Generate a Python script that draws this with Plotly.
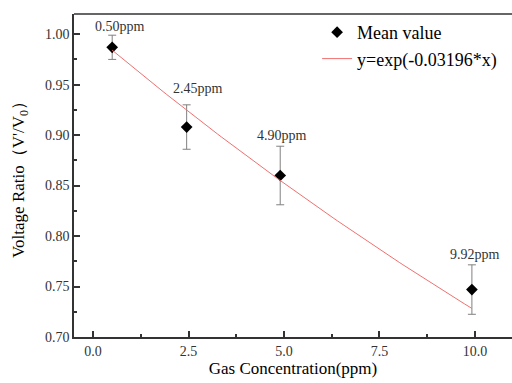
import numpy as np
import plotly.graph_objects as go

conc = [0.50, 2.45, 4.90, 9.92]
ratio = [0.987, 0.908, 0.860, 0.747]
err = [0.012, 0.022, 0.029, 0.0245]
labels = ["0.50ppm", "2.45ppm", "4.90ppm", "9.92ppm"]
label_x = [0.70, 2.74, 4.94, 9.99]
label_y = [1.008, 0.946, 0.900, 0.782]
fit_k = -0.03196

x_ticks = [0.0, 2.5, 5.0, 7.5, 10.0]
y_ticks = [0.70, 0.75, 0.80, 0.85, 0.90, 0.95, 1.00]

xf = np.linspace(conc[0], conc[-1], 100)
yf = np.exp(fit_k * xf)

font = "Liberation Serif, Times New Roman, serif"
fig = go.Figure()
fig.add_trace(go.Scatter(
    x=conc, y=ratio, mode="markers", name="Mean value",
    marker=dict(symbol="diamond", size=9, color="black"),
    error_y=dict(type="data", array=err, color="#808080", thickness=1, width=4),
))
fig.add_trace(go.Scatter(
    x=xf, y=yf, mode="lines", name="y=exp(-0.03196*x)",
    line=dict(color="#f07070", width=1),
))

for xi, yi, lab in zip(label_x, label_y, labels):
    fig.add_annotation(x=xi, y=yi, text=lab, showarrow=False,
                       font=dict(family=font, size=14, color="#333"))

fig.add_shape(type="line", xref="paper", yref="paper", x0=0, x1=1, y0=1, y1=1,
              line=dict(color="#333", width=1.5))

fig.update_layout(
    width=512, height=383,
    margin=dict(l=74, r=0, t=14, b=46),
    paper_bgcolor="white", plot_bgcolor="white",
    font=dict(family=font, size=14, color="#333"),
    showlegend=True,
    legend=dict(x=0.555, y=1.0, xanchor="left", yanchor="top",
                bgcolor="rgba(0,0,0,0)", font=dict(family=font, size=18, color="black"),
                tracegroupgap=0),
    xaxis=dict(range=[-0.5, 10.97], tickvals=x_ticks, tickformat=".1f", automargin=False,
               ticks="inside", ticklen=6, tickwidth=1.5, tickcolor="#333",
               tickfont=dict(family=font, size=14, color="#333"),
               showline=True, linecolor="#333", linewidth=1.5, showgrid=False, zeroline=False,
               minor=dict(ticks="inside", ticklen=3, tickcolor="#333", dtick=1.25, tick0=0),
               title=dict(text="Gas Concentration(ppm)", font=dict(family=font, size=17, color="black"),
                          standoff=0)),
    yaxis=dict(range=[0.70, 1.02], tickvals=y_ticks, tickformat=".2f", automargin=False,
               ticks="inside", ticklen=6, tickwidth=1.5, tickcolor="#333",
               tickfont=dict(family=font, size=14, color="#333"),
               showline=True, linecolor="#333", linewidth=1.5, showgrid=False, zeroline=False,
               minor=dict(ticks="inside", ticklen=3, tickcolor="#333", dtick=0.025, tick0=0.7),
               title=dict(text="Voltage Ratio（V'/V<sub>0</sub>）", font=dict(family=font, size=17, color="black"),
                          standoff=16)),
)
fig.write_html("out.html", config={"displayModeBar": False},
               post_script="document.body.style.margin='0px';")
